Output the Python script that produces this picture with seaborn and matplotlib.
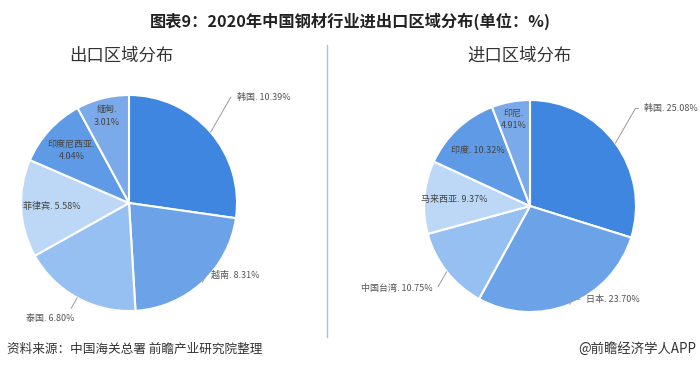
import numpy as np
import matplotlib
matplotlib.use('Agg')
import matplotlib.pyplot as plt
import seaborn as sns

# export destinations (share, %), clockwise from 12 o'clock
export_names = ['韩国', '越南', '泰国', '菲律宾', '印度尼西亚', '缅甸']
export_values = [10.39, 8.31, 6.80, 5.58, 4.04, 3.01]
export_colors = ['#3E86DF', '#6CA3E8', '#97C0F2', '#BDD8F7', '#5E9AE6', '#7AAAE9']

# import origins (share, %)
import_names = ['韩国', '日本', '中国台湾', '马来西亚', '印度', '印尼']
import_values = [25.08, 23.70, 10.75, 9.37, 10.32, 4.91]
import_colors = ['#3E86DF', '#6CA3E8', '#97C0F2', '#BDD8F7', '#5E9AE6', '#7AAAE9']

sns.set_theme(style='white')
plt.rcParams['font.family'] = ['Noto Sans CJK SC', 'DejaVu Sans']


def draw_pie(ax, names, values, colors, outside, wrap):
    wedges, _ = ax.pie(values, colors=colors, startangle=90, counterclock=False,
                       wedgeprops=dict(edgecolor='white', linewidth=1.5))
    ax.set_xlim(-1, 1)
    ax.set_ylim(-1, 1)
    total = sum(values)
    for w, name, v in zip(wedges, names, values):
        ang = np.deg2rad((w.theta1 + w.theta2) / 2)
        ca, sa = np.cos(ang), np.sin(ang)
        sep = '.\n' if name in wrap else '. '
        txt = f'{name}{sep}{v:.2f}%'
        if name in outside:
            dx, dy = outside[name]
            ha = 'left' if ca > 0 else 'right'
            ax.annotate(txt, xy=(ca, sa), xytext=(dx, dy), ha=ha, va='center',
                        fontsize=6.5, color='#555555',
                        arrowprops=dict(arrowstyle='-', color='#999999', lw=0.7,
                                        connectionstyle='angle,angleA=0,angleB=60,rad=0',
                                        shrinkA=2, shrinkB=0))
        else:
            r = 0.83 if v / total < 0.09 else 0.72
            ax.text(r * ca, r * sa, txt, ha='center', va='center',
                    fontsize=6.5, color='#444444', linespacing=1.5)


fig = plt.figure(figsize=(7, 3.68), dpi=100)

ax1 = fig.add_axes([21 / 700, 57 / 368, 216 / 700, 216 / 368])
draw_pie(ax1, export_names, export_values, export_colors,
         outside={'韩国': (1.0, 0.98), '越南': (0.76, -0.67), '泰国': (-0.5, -1.07)},
         wrap=['印度尼西亚', '缅甸'])

ax2 = fig.add_axes([424 / 700, 56 / 368, 212 / 700, 212 / 368])
draw_pie(ax2, import_names, import_values, import_colors,
         outside={'韩国': (1.08, 0.92), '日本': (0.53, -0.88), '中国台湾': (-0.92, -0.78)},
         wrap=['印尼'])

fig.text(0.5, 1 - 21 / 368, '图表9：2020年中国钢材行业进出口区域分布(单位：%)',
         ha='center', va='center', fontsize=11.7, fontweight='bold', color='#222222')
fig.text(121 / 700, 1 - 56 / 368, '出口区域分布', ha='center', va='center',
         fontsize=12.5, color='#333333')
fig.text(519 / 700, 1 - 56 / 368, '进口区域分布', ha='center', va='center',
         fontsize=12.5, color='#333333')
fig.add_artist(plt.Line2D([327 / 700, 327 / 700], [1 - 45 / 368, 1 - 337 / 368],
                          color='#A9C1DD', lw=1))
fig.text(7 / 700, 1 - 349 / 368, '资料来源：中国海关总署 前瞻产业研究院整理',
         ha='left', va='center', fontsize=9.1, color='#333333')
fig.text(696 / 700, 1 - 349 / 368, '@前瞻经济学人APP', ha='right', va='center',
         fontsize=9.6, color='#333333')

fig.savefig('out.png', dpi=100)
